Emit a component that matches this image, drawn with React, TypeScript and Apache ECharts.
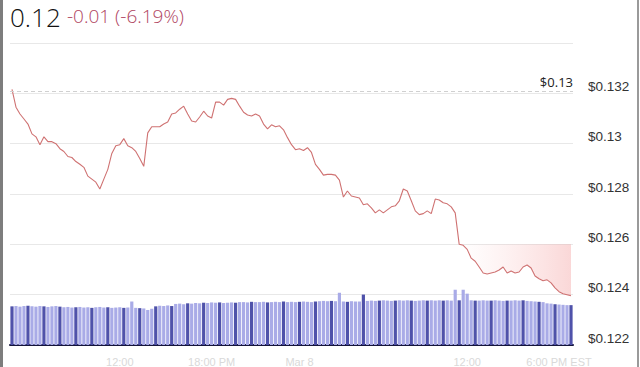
import React, { useEffect, useRef } from "react";
import * as echarts from "echarts";

const priceValues: number[] = [
  0.13216, 0.13145, 0.13118, 0.13098, 0.13078, 0.13039, 0.13027, 0.12996, 0.13027, 0.13008,
  0.13008, 0.13000, 0.12980, 0.12969, 0.12949, 0.12945, 0.12929, 0.12918, 0.12906, 0.12871,
  0.12859, 0.12847, 0.12820, 0.12859, 0.12898, 0.12961, 0.12992, 0.12996, 0.13020, 0.12992,
  0.12984, 0.12969, 0.12941, 0.12910, 0.13043, 0.13067, 0.13067, 0.13067, 0.13078, 0.13086,
  0.13118, 0.13122, 0.13137, 0.13149, 0.13118, 0.13090, 0.13086, 0.13106, 0.13129, 0.13110,
  0.13102, 0.13165, 0.13165, 0.13153, 0.13176, 0.13180, 0.13176, 0.13149, 0.13125, 0.13114,
  0.13110, 0.13118, 0.13110, 0.13078, 0.13059, 0.13075, 0.13067, 0.13071, 0.13055, 0.13024,
  0.12996, 0.12976, 0.12980, 0.12973, 0.12984, 0.12965, 0.12918, 0.12898, 0.12875, 0.12878,
  0.12878, 0.12875, 0.12855, 0.12788, 0.12812, 0.12792, 0.12788, 0.12784, 0.12757, 0.12761,
  0.12745, 0.12725, 0.12737, 0.12725, 0.12737, 0.12749, 0.12753, 0.12773, 0.12820, 0.12812,
  0.12773, 0.12733, 0.12718, 0.12722, 0.12733, 0.12722, 0.12780, 0.12776, 0.12765, 0.12761,
  0.12749, 0.12725, 0.12600, 0.12596, 0.12580, 0.12545, 0.12533, 0.12510, 0.12486, 0.12482,
  0.12486, 0.12490, 0.12498, 0.12510, 0.12486, 0.12494, 0.12486, 0.12490, 0.12510, 0.12518,
  0.12506, 0.12474, 0.12463, 0.12455, 0.12459, 0.12447, 0.12427, 0.12412, 0.12404, 0.12400,
  0.12396,
];

const volumeValues: number[] = [
  12.8, 12.9, 12.7, 12.9, 13.0, 12.8, 12.7, 12.9, 12.8, 12.6, 12.8, 12.9, 12.7,
  12.5, 12.6, 12.4, 12.5, 12.6, 12.4, 12.5, 12.3, 12.5, 12.6, 12.4, 12.5, 12.3, 12.4, 12.5, 12.3, 12.4,
  14.4,
  12.3, 12.2, 12.1, 11.6, 12.0,
  12.8, 13.0, 12.9, 13.1, 12.9,
  13.6, 13.7, 13.5, 13.8, 13.7, 13.9, 13.8,
  14.0, 13.9, 14.1, 14.0, 14.1, 13.9, 14.0, 14.1, 14.0, 14.2,
  14.2, 14.1, 14.3, 14.2, 14.2, 14.3, 14.1, 14.2, 14.3, 14.2, 14.4, 14.2, 14.3, 14.2, 14.3, 14.4, 14.3, 14.2, 14.4,
  14.5, 14.6, 14.5, 14.6, 14.5,
  17.3,
  14.4, 14.3, 14.5, 14.4, 14.4,
  16.7,
  14.6, 14.7, 14.6, 14.7, 14.8, 14.7, 14.6, 14.7, 14.8, 14.7, 14.8, 14.7, 14.6, 14.7, 14.8, 14.7, 14.8, 14.7, 14.8, 14.7, 14.8, 14.7,
  18.3, 14.8, 18.3, 17.0,
  14.8, 14.7, 14.7, 14.8, 14.7, 14.7, 14.8, 14.7, 14.6, 14.7, 14.7, 14.8, 14.7, 14.8, 14.6,
  14.5, 14.4, 14.3, 14.2,
  13.8, 13.7, 13.5, 13.4, 13.3, 13.2, 13.2,
];

const xTickLabels: { index: number; label: string }[] = [
  { index: 27, label: "12:00" },
  { index: 50, label: "18:00 PM" },
  { index: 72, label: "Mar 8" },
  { index: 114, label: "12:00" },
  { index: 137, label: "6:00 PM EST" },
];

const openPrice = 0.13208;
const openLabel = "$0.13";
const headlinePrice = "0.12";
const headlineChange = "-0.01 (-6.19%)";
const highlightStart = 112;
const highlightBase = 0.126;

const categories: string[] = priceValues.map((_, i) => String(i));

export default function App() {
  const ref = useRef<HTMLDivElement>(null);
  useEffect(() => {
    if (!ref.current) return;
    const chart = echarts.init(ref.current, undefined, { renderer: "svg" });
    const labelMap: Record<number, string> = {};
    xTickLabels.forEach((t) => (labelMap[t.index] = t.label));
    const highlightData = priceValues.map((v, i) => (i >= highlightStart ? v : null));
    chart.setOption({
      animation: false,
      backgroundColor: "#ffffff",
      grid: { left: 10, width: 563, top: 43, height: 306, containLabel: false },
      xAxis: {
        type: "category",
        data: categories,
        boundaryGap: true,
        axisLine: { show: true, lineStyle: { color: "#14143a", width: 2 } },
        axisTick: { show: false },
        splitLine: { show: false },
        axisLabel: {
          show: true,
          interval: (i: number) => labelMap[i] !== undefined,
          formatter: (_v: string, i: number) => labelMap[i] || "",
          color: "#d9d9d9",
          fontSize: 11,
          margin: 11,
          fontFamily: "Liberation Sans, Arial, sans-serif",
        },
      },
      yAxis: [
        {
          type: "value",
          position: "right",
          min: 0.122,
          max: 0.134,
          interval: 0.002,
          axisLine: { show: false },
          axisTick: { show: false },
          splitLine: { show: true, lineStyle: { color: "#e8e8e8", width: 1 } },
          axisLabel: {
            showMaxLabel: false,
            margin: 15,
            color: "#333333",
            fontSize: 13.5,
            verticalAlign: "bottom",
            fontFamily: "Liberation Sans, Arial, sans-serif",
            formatter: (v: number) => "$" + parseFloat(v.toFixed(3)),
          },
        },
        {
          type: "value",
          min: 0,
          max: 100,
          show: false,
          splitLine: { show: false },
        },
      ],
      series: [
        {
          type: "bar",
          yAxisIndex: 1,
          data: volumeValues,
          barCategoryGap: "20%",
          itemStyle: {
            color: (p: any) => (p.dataIndex % 4 === 0 ? "#4f52aa" : "#a9abe7"),
          },
          z: 1,
        },
        {
          type: "line",
          data: highlightData,
          symbol: "none",
          lineStyle: { width: 0, opacity: 0 },
          areaStyle: {
            origin: highlightBase,
            color: new echarts.graphic.LinearGradient(0, 0, 1, 0, [
              { offset: 0, color: "rgba(248,170,170,0)" },
              { offset: 1, color: "rgba(240,130,130,0.45)" },
            ]),
          },
          z: 2,
          silent: true,
        },
        {
          type: "line",
          data: priceValues,
          symbol: "none",
          lineStyle: { color: "#cf7272", width: 1.1 },
          z: 3,
          markLine: {
            silent: true,
            symbol: "none",
            precision: 5,
            lineStyle: { color: "#d0d0d0", type: [4, 3], width: 1 },
            label: {
              show: true,
              position: "insideEndTop",
              formatter: openLabel,
              color: "#222222",
              fontSize: 13,
              distance: [0, 3],
              fontFamily: "Open Sans, sans-serif",
            },
            data: [{ yAxis: openPrice }],
          },
        },
      ],
      graphic: [
        { type: "rect", left: 0, top: 0, shape: { width: 3, height: 367 }, style: { fill: "#7d7d7d" } },
        { type: "rect", left: 637, top: 0, shape: { width: 2, height: 367 }, style: { fill: "#9a9a9a" } },
        {
          type: "text",
          left: 10,
          top: 4,
          style: {
            text: headlinePrice,
            fill: "#111111",
            fontSize: 26,
            fontWeight: 300,
            fontFamily: "Open Sans, sans-serif",
          },
        },
        {
          type: "text",
          left: 67,
          top: 6,
          style: {
            text: headlineChange,
            fill: "#b0455f",
            fontSize: 19,
            fontWeight: 300,
            fontFamily: "Open Sans, sans-serif",
          },
        },
      ],
    });
    return () => chart.dispose();
  }, []);
  return (
    <div
      ref={ref}
      style={{ position: "fixed", left: 0, top: 0, width: 640, height: 367 }}
    />
  );
}
